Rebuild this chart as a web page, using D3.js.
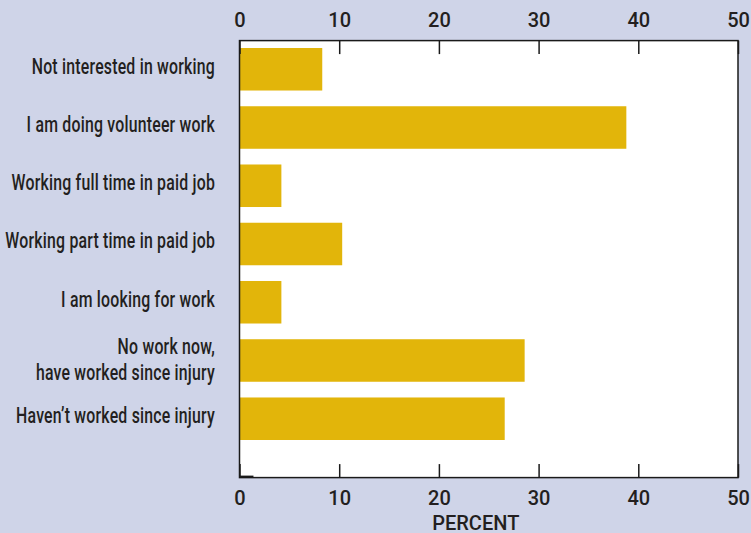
<!DOCTYPE html>
<html>
<head>
<meta charset="utf-8">
<script src="https://cdn.jsdelivr.net/npm/d3@7"></script>
<style>
  html, body { margin: 0; padding: 0; background: #cfd4e8; }
  svg { display: block; }
  .cat { font-family: Roboto, "Liberation Sans", sans-serif; font-weight: 500; font-size: 22px; fill: #231f20; letter-spacing: 0.3px; }
  .tick text { font-family: Roboto, "Liberation Sans", sans-serif; font-weight: 500; font-size: 20px; fill: #231f20; }
  .title { font-family: Roboto, "Liberation Sans", sans-serif; font-weight: 500; font-size: 20px; fill: #231f20; }
</style>
</head>
<body>
<svg id="chart" width="751" height="533"></svg>
<script>
// Employment status after injury, percent of respondents
const categories = [
  "Not interested in working",
  "I am doing volunteer work",
  "Working full time in paid job",
  "Working part time in paid job",
  "I am looking for work",
  "No work now,\nhave worked since injury",
  "Haven\u2019t worked since injury"
];
const percents = [8.3, 38.8, 4.2, 10.3, 4.2, 28.6, 26.6];
const tickValues = [0, 10, 20, 30, 40, 50];
const axisTitle = "PERCENT";

const svg = d3.select("#chart");
const W = 751, H = 533;
const plot = { left: 239.5, right: 738, top: 40.6, bottom: 477.6 };

const x = d3.scaleLinear().domain([0, 50]).range([plot.left, plot.right]);
const y = d3.scaleBand()
  .domain(categories)
  .range([48, 440])
  .paddingInner(0.27)
  .paddingOuter(0);

// background
svg.append("rect").attr("width", W).attr("height", H).attr("fill", "#cfd4e8");

// white plotting panel
svg.append("rect")
  .attr("x", plot.left).attr("y", plot.top)
  .attr("width", plot.right - plot.left).attr("height", plot.bottom - plot.top)
  .attr("fill", "#ffffff");

// bars
svg.append("g").selectAll("rect")
  .data(categories)
  .join("rect")
  .attr("x", x(0))
  .attr("y", d => y(d))
  .attr("width", (d, i) => x(percents[i]) - x(0))
  .attr("height", y.bandwidth())
  .attr("fill", "#e2b50a");

// frame
svg.append("rect")
  .attr("x", plot.left).attr("y", plot.top)
  .attr("width", plot.right - plot.left).attr("height", plot.bottom - plot.top)
  .attr("fill", "none").attr("stroke", "#1a1a1a").attr("stroke-width", 1.5);

// top axis, ticks pointing into the panel
const topAxis = svg.append("g")
  .attr("transform", `translate(0,${plot.top})`)
  .call(d3.axisTop(x).tickValues(tickValues).tickSize(-13.5).tickPadding(13.6));

// bottom axis, ticks pointing into the panel
const bottomAxis = svg.append("g")
  .attr("transform", `translate(0,${plot.bottom})`)
  .call(d3.axisBottom(x).tickValues(tickValues).tickSize(-13.5).tickPadding(13));

[topAxis, bottomAxis].forEach(g => {
  g.select(".domain").remove();
  g.selectAll(".tick line").attr("stroke", "#1a1a1a").attr("stroke-width", 1.5);
  g.attr("font-family", null).attr("font-size", null);
});

// short heavy stub at the origin
svg.append("line")
  .attr("x1", x(0)).attr("x2", x(1.4))
  .attr("y1", plot.bottom - 1).attr("y2", plot.bottom - 1)
  .attr("stroke", "#1a1a1a").attr("stroke-width", 2);

// category labels, condensed
const labelG = svg.append("g");
categories.forEach(c => {
  const lines = c.split("\n");
  const cy = y(c) + y.bandwidth() / 2;
  const lh = 26;
  const first = cy + 4.5 - (lines.length - 1) * (lh / 2 - 2);
  const g = labelG.append("g")
    .attr("transform", `translate(215,0) scale(0.72,1)`);
  lines.forEach((ln, j) => {
    g.append("text")
      .attr("class", "cat")
      .attr("text-anchor", "end")
      .attr("x", 0)
      .attr("y", first + j * lh)
      .text(ln);
  });
});

// axis title
svg.append("text")
  .attr("class", "title")
  .attr("text-anchor", "middle")
  .attr("x", x(23.7))
  .attr("y", 529.5)
  .text(axisTitle);
</script>
</body>
</html>
